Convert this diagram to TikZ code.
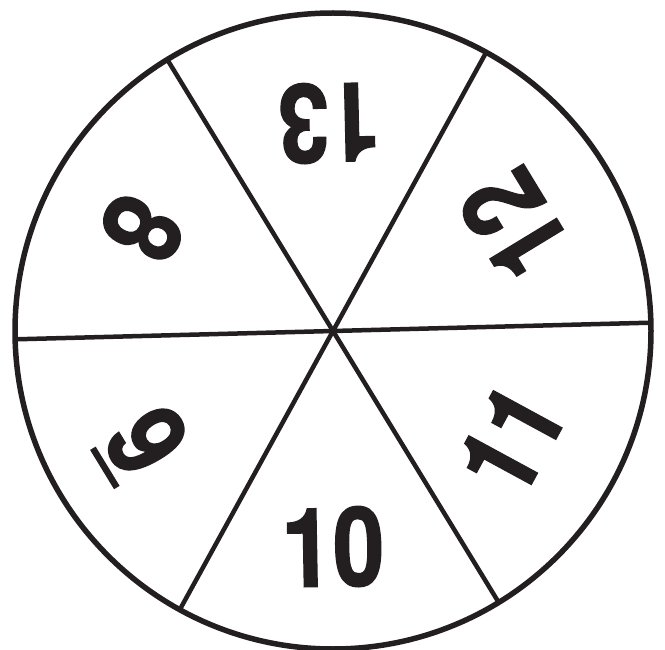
\documentclass[tikz,border=0pt]{standalone}
\usepackage{fontspec}
\newfontfamily\numfont[FakeStretch=0.84,FakeBold=1.2]{TeX Gyre Heros}
\usetikzlibrary{calc}
\definecolor{ink}{RGB}{35,31,32}
\tikzset{
  num/.style={inner sep=0pt, font=\numfont\bfseries\fontsize{110}{110}\selectfont, text=ink},
  rim/.style={draw=ink, line width=5.5pt},
  spoke/.style={draw=ink, line width=4.5pt}
}
\begin{document}
\begin{tikzpicture}[x=1pt,y=1pt]
\useasboundingbox (0,0) rectangle (665,-650);
\coordinate (c) at (333,-331);
\draw[rim] (c) circle[radius=318];
\foreach \a/\n in {1.5/a, 61.2/b, 121.4/d}{
  \coordinate (p\n) at ($(c)+(\a:318)$);
  \coordinate (q\n) at ($(c)+(\a+180:318)$);
}
\draw[spoke] (pa) -- (qa);
\draw[spoke] (pb) -- (qb);
\draw[spoke] (pd) -- (qd);
\node[num, rotate=181.3] (n13) at (329,-123) {13};
\node[num, rotate=121.3] (n12) at (514,-225) {12};
\node[num, rotate=61.5] (n11) at (511,-440) {11};
\node[num, rotate=1.0] (n10) at (333,-547) {10};
\node[num, rotate=241.5] (n8) at (142,-229) {8};
\node[num, rotate=301.4] (n9) at (147,-441) {9};
\coordinate (u1) at ($(n9.center)+(301.4:-22)+(211.4:50)$);
\coordinate (u2) at ($(n9.center)+(301.4:24)+(211.4:50)$);
\draw[ink, line width=6.5pt] (u1) -- (u2);
\end{tikzpicture}
\end{document}
